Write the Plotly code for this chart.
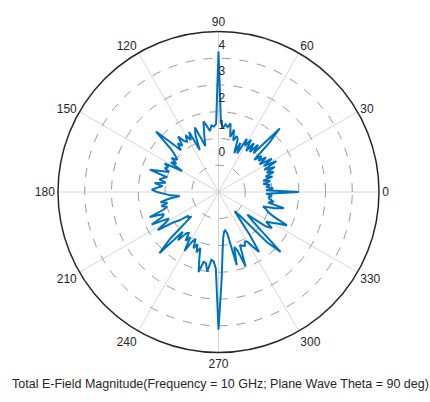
import plotly.graph_objects as go

# Angles (deg) and total E-field magnitude values
theta_deg = list(range(0, 360, 2))
magnitude = [
    2.0, 0.78, 1.05, 0.8, 0.95, 0.7, 0.98, 0.72, 1.1, 0.85,     # 0-18
    1.2, 0.94, 1.3, 0.9, 1.45, 0.95, 1.35, 0.85, 1.2, 0.9,      # 20-38
    1.1, 0.8, 1.6, 2.3, 0.95, 1.3, 0.9, 1.25, 0.85, 1.3,        # 40-58
    1.0, 1.25, 0.6, 1.0, 0.57, 1.1, 1.2, 1.0, 1.4, 1.1,         # 60-78
    1.6, 1.45, 1.55, 1.4, 1.6, 4.25, 1.55, 1.45, 1.5, 1.3,      # 80-98
    1.5, 1.7, 1.2, 0.79, 1.1, 1.57, 1.3, 0.72, 1.5, 1.2,        # 100-118
    1.45, 1.22, 1.3, 1.56, 1.19, 1.37, 1.1, 1.6, 2.25, 1.36,    # 120-138
    1.1, 0.95, 1.17, 0.9, 1.1, 0.57, 1.28, 1.09, 1.2, 1.0,      # 140-158
    1.3, 1.7, 1.0, 1.15, 1.26, 1.0, 1.41, 1.1, 1.3, 1.5,        # 160-178
    1.3, 1.02, 0.8, 0.46, 0.9, 1.2, 0.95, 1.2, 1.0, 1.18,       # 180-198
    1.74, 1.2, 1.3, 1.78, 1.1, 1.26, 1.68, 1.03, 0.8, 0.43,     # 200-218
    0.5, 0.36, 1.5, 2.18, 1.0, 1.35, 0.95, 0.89, 1.2, 1.0,      # 220-238
    1.54, 1.1, 0.95, 1.3, 1.1, 1.4, 1.2, 1.6, 2.08, 1.67,       # 240-258
    1.7, 2.01, 1.55, 1.6, 1.86, 4.15, 2.3, 1.2, 0.7, 0.5,       # 260-278
    0.45, 0.6, 1.82, 1.14, 1.3, 1.97, 1.14, 1.2, 1.24, 1.1,     # 280-298
    1.14, 1.4, 1.71, 1.0, 0.3, -0.06, 0.2, 1.6, 2.23, 1.1,      # 300-318
    0.6, 0.37, 1.2, 1.41, 1.1, 1.3, 1.5, 1.85, 1.26, 1.0,       # 320-338
    0.9, 0.75, 1.2, 1.52, 0.9, 1.1, 0.93, 0.89, 1.0, 0.78,      # 340-358
]

angular_ticks = list(range(0, 360, 30))
angular_labels = [str(a) for a in angular_ticks]
radial_ticks = [0, 1, 2, 3, 4, 5]
radial_labels = ["0", "1", "2", "3", "4"]
radial_range = [-1, 5]
title_text = "Total E-Field Magnitude(Frequency = 10 GHz; Plane Wave Theta = 90 deg)"

FONT = "Liberation Sans, Arial, sans-serif"
TXT = "#262626"

fig = go.Figure()
fig.add_trace(go.Scatterpolar(
    r=magnitude + magnitude[:1],
    theta=theta_deg + theta_deg[:1],
    mode="lines",
    line=dict(color="#0072BD", width=2),
    hoverinfo="skip",
    showlegend=False,
))
# radial tick labels, placed slightly outside each ring along the 90 deg spoke
fig.add_trace(go.Scatterpolar(
    r=[float(v) + 0.47 for v in radial_labels],
    theta=[90] * len(radial_labels),
    mode="text",
    text=radial_labels,
    textposition="middle right",
    textfont=dict(family=FONT, size=12, color=TXT),
    hoverinfo="skip",
    showlegend=False,
    cliponaxis=False,
))

fig.update_layout(
    width=430, height=402,
    margin=dict(l=0, r=0, t=0, b=0),
    paper_bgcolor="white",
    plot_bgcolor="white",
    polar=dict(
        domain=dict(x=[58 / 430, 379 / 430], y=[49.5 / 402, 370.5 / 402]),
        bgcolor="white",
        radialaxis=dict(
            range=radial_range,
            tickvals=radial_ticks,
            showticklabels=False,
            ticks="",
            showline=False,
            gridcolor="#9a9a9a",
            griddash="dash",
            gridwidth=1,
            angle=90,
        ),
        angularaxis=dict(
            tickvals=angular_ticks,
            ticktext=angular_labels,
            direction="counterclockwise",
            rotation=0,
            ticks="",
            showline=True,
            linecolor="#262626",
            linewidth=1.5,
            gridcolor="#d6d6d6",
            gridwidth=1,
            tickfont=dict(family=FONT, size=12, color=TXT),
        ),
    ),
    annotations=[dict(
        text=title_text,
        xref="paper", yref="paper",
        x=220.5 / 430, y=1 - 384 / 402,
        xanchor="center", yanchor="middle",
        showarrow=False,
        font=dict(family=FONT, size=12.5, color=TXT),
    )],
)

fig.write_html("out.html")
